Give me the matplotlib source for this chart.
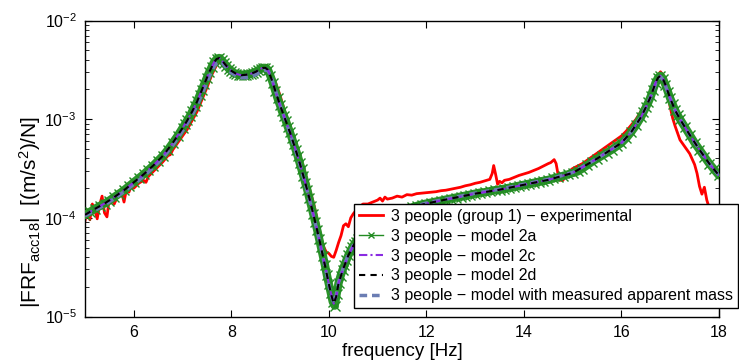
import numpy as np
import matplotlib
matplotlib.use('Agg')
import matplotlib.pyplot as plt
from matplotlib.ticker import LogLocator, NullLocator, FixedLocator
from matplotlib.lines import Line2D

plt.rcParams['font.family'] = ['Liberation Sans', 'DejaVu Sans']
plt.rcParams['mathtext.fontset'] = 'custom'
plt.rcParams['mathtext.rm'] = 'Liberation Sans'
plt.rcParams['mathtext.it'] = 'Liberation Sans:italic'
plt.rcParams['mathtext.bf'] = 'Liberation Sans:bold'

# ---------------- data (frequency [Hz], log10 |FRF| [(m/s^2)/N]) ----------------
# model 2a (dense sampling, drawn with x markers)
model_2a_log10 = [
    (5.0, -3.97), (5.1, -3.94), (5.2, -3.91), (5.3, -3.88), (5.4, -3.855), (5.5, -3.825),
    (5.6, -3.79), (5.7, -3.755), (5.8, -3.72), (5.9, -3.68), (6.0, -3.64), (6.1, -3.60),
    (6.2, -3.56), (6.3, -3.515), (6.4, -3.47), (6.5, -3.42), (6.6, -3.37), (6.7, -3.31),
    (6.8, -3.24), (6.9, -3.17), (7.0, -3.09),
    (7.05, -3.05), (7.10, -3.01), (7.15, -2.97), (7.20, -2.92), (7.25, -2.87), (7.30, -2.82),
    (7.35, -2.76), (7.40, -2.70), (7.45, -2.64), (7.50, -2.58), (7.55, -2.52), (7.60, -2.47),
    (7.65, -2.42), (7.70, -2.39), (7.75, -2.38), (7.80, -2.40), (7.85, -2.43), (7.90, -2.46),
    (7.95, -2.49), (8.00, -2.51), (8.05, -2.53), (8.10, -2.54), (8.15, -2.55), (8.20, -2.555),
    (8.25, -2.555), (8.30, -2.55), (8.35, -2.545), (8.40, -2.54), (8.45, -2.53), (8.50, -2.52),
    (8.55, -2.505), (8.60, -2.49), (8.65, -2.48), (8.70, -2.48), (8.75, -2.50), (8.80, -2.56),
    (8.85, -2.63), (8.90, -2.71), (8.95, -2.79), (9.00, -2.86),
    (9.04, -2.92), (9.08, -2.97), (9.12, -3.02), (9.16, -3.08), (9.20, -3.13), (9.24, -3.19),
    (9.28, -3.25), (9.32, -3.31), (9.36, -3.37), (9.40, -3.44), (9.44, -3.51), (9.48, -3.58),
    (9.52, -3.65), (9.56, -3.72), (9.60, -3.80), (9.64, -3.88), (9.68, -3.96), (9.72, -4.04),
    (9.76, -4.12), (9.80, -4.21), (9.84, -4.30), (9.88, -4.39), (9.92, -4.48), (9.96, -4.58),
    (10.00, -4.67), (10.04, -4.76), (10.08, -4.85), (10.12, -4.89), (10.16, -4.77), (10.20, -4.66),
    (10.24, -4.59), (10.28, -4.53), (10.32, -4.48), (10.36, -4.43), (10.40, -4.38), (10.44, -4.34),
    (10.48, -4.30), (10.52, -4.27), (10.56, -4.24), (10.60, -4.21),
    (10.7, -4.16), (10.8, -4.11), (10.9, -4.07), (11.0, -4.04), (11.1, -4.01), (11.2, -3.98),
    (11.3, -3.96), (11.4, -3.94), (11.5, -3.925), (11.6, -3.91), (11.7, -3.895), (11.8, -3.88),
    (11.9, -3.865), (12.0, -3.855), (12.1, -3.845), (12.2, -3.835), (12.3, -3.825), (12.4, -3.815),
    (12.5, -3.805), (12.6, -3.795), (12.7, -3.785), (12.8, -3.775), (12.9, -3.765), (13.0, -3.755),
    (13.1, -3.745), (13.2, -3.74), (13.3, -3.73), (13.4, -3.72), (13.5, -3.715), (13.6, -3.705),
    (13.7, -3.695), (13.8, -3.685), (13.9, -3.675), (14.0, -3.665), (14.1, -3.655), (14.2, -3.645),
    (14.3, -3.635), (14.4, -3.625), (14.5, -3.615), (14.6, -3.60), (14.7, -3.59), (14.8, -3.575),
    (14.9, -3.56), (15.0, -3.545),
    (15.1, -3.53), (15.2, -3.50), (15.3, -3.465), (15.4, -3.43), (15.5, -3.40), (15.6, -3.37),
    (15.7, -3.34), (15.8, -3.31), (15.9, -3.275), (16.0, -3.24), (16.1, -3.19), (16.2, -3.13),
    (16.3, -3.06), (16.4, -2.98),
    (16.45, -2.93), (16.50, -2.88), (16.55, -2.83), (16.60, -2.77), (16.65, -2.70), (16.70, -2.63),
    (16.75, -2.58), (16.80, -2.56), (16.85, -2.59), (16.90, -2.65), (16.95, -2.72), (17.00, -2.79),
    (17.05, -2.85), (17.10, -2.91), (17.15, -2.96), (17.20, -3.00),
    (17.3, -3.08), (17.4, -3.16), (17.5, -3.24), (17.6, -3.31), (17.7, -3.38), (17.8, -3.45),
    (17.9, -3.51), (18.0, -3.57),
]

# models 2c and 2d (coarser sampling, dashed lines)
model_2c_log10 = [
    (5.0, -3.97), (5.2, -3.91), (5.4, -3.855), (5.6, -3.79), (5.8, -3.72), (6.0, -3.64),
    (6.2, -3.56), (6.4, -3.47), (6.6, -3.37), (6.8, -3.24), (7.0, -3.09), (7.1, -3.01),
    (7.2, -2.92), (7.3, -2.82), (7.4, -2.70), (7.5, -2.58), (7.55, -2.52), (7.6, -2.47),
    (7.65, -2.42), (7.7, -2.39), (7.75, -2.38), (7.8, -2.40), (7.85, -2.43), (7.9, -2.46),
    (8.0, -2.51), (8.1, -2.54), (8.2, -2.555), (8.3, -2.55), (8.4, -2.54), (8.5, -2.52),
    (8.6, -2.49), (8.65, -2.48), (8.7, -2.48), (8.75, -2.50), (8.8, -2.56), (8.85, -2.63),
    (8.9, -2.71), (9.0, -2.86), (9.1, -2.995), (9.2, -3.13), (9.3, -3.28), (9.4, -3.44),
    (9.5, -3.615), (9.6, -3.80), (9.7, -4.00), (9.8, -4.21), (9.9, -4.435), (10.0, -4.67),
    (10.05, -4.78), (10.1, -4.87), (10.15, -4.80), (10.2, -4.66), (10.3, -4.51), (10.4, -4.38),
    (10.5, -4.285), (10.6, -4.21), (11.0, -4.04), (11.5, -3.925), (12.0, -3.855), (12.5, -3.805),
    (13.0, -3.755), (13.5, -3.715), (14.0, -3.665), (14.5, -3.615), (15.0, -3.545), (15.5, -3.40),
    (16.0, -3.24), (16.2, -3.13), (16.4, -2.98), (16.5, -2.88), (16.6, -2.77), (16.7, -2.63),
    (16.75, -2.58), (16.8, -2.56), (16.85, -2.59), (16.9, -2.65), (17.0, -2.79), (17.1, -2.91),
    (17.2, -3.00), (17.4, -3.16), (17.6, -3.31), (17.8, -3.45), (18.0, -3.57),
]
model_2d_log10 = [
    (5.0, -3.97), (5.2, -3.91), (5.4, -3.855), (5.6, -3.79), (5.8, -3.72), (6.0, -3.64),
    (6.2, -3.56), (6.4, -3.47), (6.6, -3.37), (6.8, -3.24), (7.0, -3.09), (7.1, -3.01),
    (7.2, -2.92), (7.3, -2.82), (7.4, -2.70), (7.5, -2.58), (7.55, -2.52), (7.6, -2.47),
    (7.65, -2.42), (7.7, -2.39), (7.75, -2.38), (7.8, -2.40), (7.85, -2.43), (7.9, -2.46),
    (8.0, -2.51), (8.1, -2.54), (8.2, -2.555), (8.3, -2.55), (8.4, -2.54), (8.5, -2.52),
    (8.6, -2.49), (8.65, -2.48), (8.7, -2.48), (8.75, -2.50), (8.8, -2.56), (8.85, -2.63),
    (8.9, -2.71), (9.0, -2.86), (9.1, -2.995), (9.2, -3.13), (9.3, -3.28), (9.4, -3.44),
    (9.5, -3.615), (9.6, -3.80), (9.7, -4.00), (9.8, -4.21), (9.9, -4.435), (10.0, -4.67),
    (10.05, -4.78), (10.1, -4.87), (10.15, -4.80), (10.2, -4.66), (10.3, -4.51), (10.4, -4.38),
    (10.5, -4.285), (10.6, -4.21), (11.0, -4.04), (11.5, -3.925), (12.0, -3.855), (12.5, -3.805),
    (13.0, -3.755), (13.5, -3.715), (14.0, -3.665), (14.5, -3.615), (15.0, -3.545), (15.5, -3.40),
    (16.0, -3.24), (16.2, -3.13), (16.4, -2.98), (16.5, -2.88), (16.6, -2.77), (16.7, -2.63),
    (16.75, -2.58), (16.8, -2.56), (16.85, -2.59), (16.9, -2.65), (17.0, -2.79), (17.1, -2.91),
    (17.2, -3.00), (17.4, -3.16), (17.6, -3.31), (17.8, -3.45), (18.0, -3.57),
]
# model with measured apparent mass
model_mam_log10 = [
    (5.0, -3.98), (5.2, -3.925), (5.4, -3.87), (5.6, -3.805), (5.8, -3.735), (6.0, -3.66),
    (6.2, -3.58), (6.4, -3.49), (6.6, -3.39), (6.8, -3.265), (7.0, -3.12), (7.1, -3.04),
    (7.2, -2.955), (7.3, -2.86), (7.4, -2.745), (7.5, -2.625), (7.55, -2.565), (7.6, -2.51),
    (7.65, -2.465), (7.7, -2.43), (7.75, -2.415), (7.8, -2.42), (7.85, -2.45), (7.9, -2.48),
    (8.0, -2.53), (8.1, -2.56), (8.2, -2.58), (8.3, -2.58), (8.4, -2.57), (8.5, -2.55),
    (8.6, -2.52), (8.65, -2.51), (8.7, -2.50), (8.75, -2.51), (8.8, -2.55), (8.85, -2.62),
    (8.9, -2.70), (9.0, -2.86), (9.1, -3.00), (9.2, -3.14), (9.3, -3.29), (9.4, -3.45),
    (9.5, -3.625), (9.6, -3.81), (9.7, -4.01), (9.8, -4.22), (9.9, -4.445), (10.0, -4.68),
    (10.05, -4.79), (10.1, -4.86), (10.15, -4.79), (10.2, -4.65), (10.3, -4.50), (10.4, -4.37),
    (10.5, -4.28), (10.6, -4.20), (11.0, -4.03), (11.5, -3.92), (12.0, -3.85), (12.5, -3.80),
    (13.0, -3.75), (13.5, -3.71), (14.0, -3.66), (14.5, -3.61), (15.0, -3.54), (15.5, -3.40),
    (16.0, -3.24), (16.2, -3.13), (16.4, -2.98), (16.5, -2.88), (16.6, -2.77), (16.7, -2.64),
    (16.75, -2.59), (16.8, -2.57), (16.85, -2.60), (16.9, -2.66), (17.0, -2.79), (17.1, -2.91),
    (17.2, -3.00), (17.4, -3.16), (17.6, -3.31), (17.8, -3.45), (18.0, -3.57),
]
# experimental
experimental_log10 = [
    (5.00, -4.03), (5.05, -3.92), (5.10, -4.02), (5.15, -3.86), (5.20, -3.92), (5.25, -4.01),
    (5.30, -3.87), (5.35, -3.78), (5.40, -3.95), (5.45, -3.99), (5.50, -3.80), (5.55, -3.79),
    (5.60, -3.86), (5.65, -3.80), (5.70, -3.77), (5.75, -3.74), (5.80, -3.84), (5.85, -3.71),
    (5.90, -3.74), (5.95, -3.68), (6.00, -3.70), (6.10, -3.65), (6.20, -3.62), (6.25, -3.64),
    (6.30, -3.58), (6.40, -3.53), (6.50, -3.48), (6.60, -3.43), (6.70, -3.37), (6.75, -3.36),
    (6.80, -3.31), (6.90, -3.24), (7.00, -3.17), (7.10, -3.10), (7.20, -3.01), (7.30, -2.92),
    (7.40, -2.80), (7.50, -2.68), (7.60, -2.55), (7.65, -2.50), (7.70, -2.45), (7.75, -2.41),
    (7.80, -2.40), (7.85, -2.42), (7.90, -2.46), (8.00, -2.51), (8.10, -2.54), (8.20, -2.55),
    (8.30, -2.54), (8.40, -2.53), (8.50, -2.51), (8.60, -2.48), (8.70, -2.47), (8.75, -2.48),
    (8.80, -2.52), (8.90, -2.62), (9.00, -2.76), (9.10, -2.93), (9.20, -3.06), (9.30, -3.21),
    (9.40, -3.36), (9.50, -3.52), (9.60, -3.70), (9.70, -3.88), (9.75, -3.99), (9.80, -4.10),
    (9.85, -4.22), (9.90, -4.30), (9.95, -4.35), (10.00, -4.36), (10.05, -4.39), (10.10, -4.40),
    (10.15, -4.33), (10.20, -4.25), (10.25, -4.18), (10.30, -4.08), (10.35, -4.06), (10.40, -4.09),
    (10.45, -4.00), (10.50, -3.96), (10.55, -3.93), (10.60, -3.90), (10.70, -3.86), (10.80, -3.86),
    (10.90, -3.84), (11.00, -3.82), (11.05, -3.80), (11.10, -3.83), (11.15, -3.79), (11.20, -3.81),
    (11.30, -3.80), (11.40, -3.78), (11.50, -3.79), (11.60, -3.765), (11.70, -3.77), (11.80, -3.755),
    (11.90, -3.75), (12.00, -3.745), (12.10, -3.74), (12.20, -3.735), (12.30, -3.725), (12.40, -3.72),
    (12.50, -3.71), (12.60, -3.70), (12.70, -3.69), (12.80, -3.675), (12.90, -3.665), (13.00, -3.65),
    (13.10, -3.64), (13.20, -3.625), (13.30, -3.61), (13.35, -3.55), (13.38, -3.47), (13.42, -3.56),
    (13.46, -3.66), (13.50, -3.63), (13.55, -3.645), (13.60, -3.62), (13.70, -3.61), (13.80, -3.59),
    (13.90, -3.57), (14.00, -3.555), (14.10, -3.54), (14.20, -3.52), (14.30, -3.50), (14.40, -3.475),
    (14.50, -3.45), (14.55, -3.44), (14.62, -3.41), (14.66, -3.45), (14.70, -3.56), (14.74, -3.62),
    (14.80, -3.62), (14.90, -3.54), (15.00, -3.50), (15.10, -3.475), (15.20, -3.45), (15.30, -3.415),
    (15.40, -3.38), (15.50, -3.345), (15.60, -3.31), (15.70, -3.275), (15.80, -3.24), (15.90, -3.205),
    (16.00, -3.17), (16.10, -3.12), (16.20, -3.06), (16.30, -3.00), (16.40, -2.92), (16.50, -2.84),
    (16.60, -2.74), (16.70, -2.61), (16.75, -2.55), (16.80, -2.52), (16.85, -2.55), (16.90, -2.62),
    (16.95, -2.75), (17.00, -2.88), (17.05, -2.99), (17.10, -3.07), (17.15, -3.14), (17.20, -3.21),
    (17.30, -3.28), (17.40, -3.35), (17.50, -3.46), (17.55, -3.55), (17.60, -3.68), (17.65, -3.76),
    (17.70, -3.69), (17.75, -3.82), (17.80, -3.90), (17.90, -3.98), (18.00, -4.05),
]

labels = [
    '3 people (group 1) \u2212 experimental',
    '3 people \u2212 model 2a',
    '3 people \u2212 model 2c',
    '3 people \u2212 model 2d',
    '3 people \u2212 model with measured apparent mass',
]
x_ticks = [6, 8, 10, 12, 14, 16, 18]

GREEN = '#228b22'
PURPLE = '#8a2be2'
SLATE = '#6b7db3'


def split(series):
    f = np.array([p[0] for p in series])
    v = 10.0 ** np.array([p[1] for p in series])
    return f, v


fig = plt.figure(figsize=(7.39, 3.64), dpi=100)
ax = fig.add_axes([85 / 739, 1 - 316.5 / 364, (719 - 85) / 739, (316.5 - 20.5) / 364])

f, v = split(experimental_log10)
ax.plot(f, v, color='#ff0000', lw=2.0, zorder=2)
f, v = split(model_2a_log10)
ax.plot(f, v, color='#2a942a', lw=6.0, solid_capstyle='round', zorder=3)
ax.plot(f, v, color=GREEN, lw=0, marker='x', markersize=7, mew=1.0, zorder=3.1)
f, v = split(model_mam_log10)
ax.plot(f, v, color=SLATE, lw=2.5, ls=(0, (2.2, 1.4)), zorder=4)
f, v = split(model_2c_log10)
ax.plot(f, v, color=PURPLE, lw=1.5, ls=(0, (4, 1.5, 1, 1.5)), zorder=5)
f, v = split(model_2d_log10)
ax.plot(f, v, color='black', lw=1.5, ls=(0, (3, 2.5)), zorder=6)

ax.set_xlim(5, 18)
ax.set_yscale('log')
ax.set_ylim(1e-5, 1e-2)
ax.xaxis.set_major_locator(FixedLocator(x_ticks))
ax.xaxis.set_minor_locator(NullLocator())
ax.yaxis.set_major_locator(LogLocator(base=10, numticks=10))
ax.yaxis.set_minor_locator(LogLocator(base=10, subs=np.arange(2, 10), numticks=10))
ax.tick_params(which='both', direction='in', top=True, right=True, colors='black')
ax.tick_params(which='major', length=5, width=0.8, labelsize=11.5, pad=6)
ax.tick_params(which='minor', length=3, width=0.6)
for s in ax.spines.values():
    s.set_linewidth(1.0)

fig.text(402 / 739, 1 - 352 / 364, 'frequency [Hz]', ha='center', va='center', fontsize=13.5)
fig.text(30 / 739, 1 - 212 / 364, r'|FRF$_{\mathrm{acc18}}$|  [(m/s$^2$)/N]', rotation=90,
         ha='center', va='center', fontsize=15)

handles = [
    Line2D([], [], color='#ff0000', lw=2.0),
    Line2D([], [], color=GREEN, lw=1.0, marker='x', markersize=5, mew=1.0),
    Line2D([], [], color=PURPLE, lw=1.5, ls=(0, (4, 1.5, 1, 1.5))),
    Line2D([], [], color='black', lw=1.5, ls=(0, (3, 2.5))),
    Line2D([], [], color=SLATE, lw=2.5, ls=(0, (2.2, 1.4))),
]
leg = fig.legend(handles=handles, labels=labels,
                 loc='lower right', bbox_to_anchor=(737.5 / 739, 1 - 308 / 364),
                 borderaxespad=0, fontsize=11.5, handlelength=1.5, handletextpad=0.5,
                 borderpad=0.3, labelspacing=0.3, fancybox=False, framealpha=1)
leg.get_frame().set_edgecolor('black')
leg.get_frame().set_linewidth(1.0)

fig.savefig('out.png', dpi=100)
